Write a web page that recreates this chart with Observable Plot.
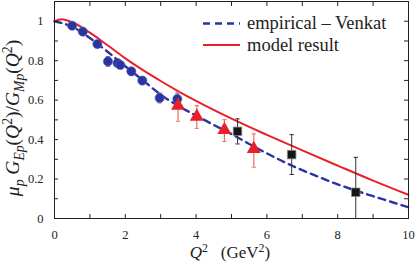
<!DOCTYPE html>
<html><head><meta charset="utf-8">
<script src="https://cdn.jsdelivr.net/npm/d3@7"></script>
<script src="https://cdn.jsdelivr.net/npm/@observablehq/plot@0.6"></script>
<style>
html,body{margin:0;padding:0;background:#fff;}
</style>
</head><body><div id="chart"></div>
<script>
// Model curve (solid red)
const modelQ2 = [0, 0.2, 0.5, 1, 1.5, 2, 2.5, 3, 3.5, 4, 5, 6, 7, 8, 9, 10];
const modelR  = [1.0, 1.01, 0.995, 0.942, 0.878, 0.812, 0.752, 0.697, 0.645, 0.596, 0.506, 0.424, 0.345, 0.268, 0.192, 0.12];
// Empirical fit – Venkat (dashed blue)
const empQ2 = [0, 0.5, 1, 1.5, 2, 2.5, 3, 3.5, 4, 4.5, 5, 5.5, 6, 6.5, 7, 7.5, 8, 8.5, 9, 9.5, 10];
const empR  = [1.0, 0.972, 0.915, 0.845, 0.772, 0.70, 0.628, 0.57, 0.522, 0.474, 0.428, 0.378, 0.33, 0.285, 0.245, 0.208, 0.173, 0.142, 0.113, 0.085, 0.057];
// Data set 1: blue circles
const circQ2 = [0.50, 0.80, 1.21, 1.51, 1.78, 1.86, 2.17, 2.48, 2.97, 3.47];
const circR  = [0.977, 0.947, 0.884, 0.796, 0.788, 0.778, 0.746, 0.699, 0.611, 0.606];
const circE  = [0.012, 0.015, 0.015, 0.025, 0.015, 0.018, 0.02, 0.018, 0.025, 0.03];
// Data set 2: red triangles
const triQ2 = [3.49, 4.02, 4.80, 5.63];
const triR  = [0.572, 0.516, 0.449, 0.353];
const triLo = [0.493, 0.457, 0.390, 0.260];
const triHi = [0.640, 0.572, 0.501, 0.429];
// Data set 3: black squares
const sqQ2 = [5.17, 6.70, 8.51];
const sqR  = [0.442, 0.324, 0.133];
const sqLo = [0.378, 0.223, 0.0];
const sqHi = [0.505, 0.425, 0.310];
// Ticks
const xTicks = [0,1,2,3,4,5,6,7,8,9,10];
const xLabels = [0,2,4,6,8,10];
const yTicks = [0,0.1,0.2,0.3,0.4,0.5,0.6,0.7,0.8,0.9,1.0];
const yLabels = [0,0.2,0.4,0.6,0.8,1.0];

const BLUE = "#2b35a0", RED = "#e8202a";
const model = modelQ2.map((x,i)=>({x, y: modelR[i]}));
const emp = empQ2.map((x,i)=>({x, y: empR[i]}));
const circ = circQ2.map((x,i)=>({x, y: circR[i], lo: circR[i]-circE[i], hi: circR[i]+circE[i]}));
const tri = triQ2.map((x,i)=>({x, y: triR[i], lo: triLo[i], hi: triHi[i]}));
const sq = sqQ2.map((x,i)=>({x, y: sqR[i], lo: sqLo[i], hi: sqHi[i]}));

const capSymbol = {draw(ctx, size){ const r = Math.sqrt(size/Math.PI); ctx.moveTo(-r,0); ctx.lineTo(r,0); }};
const caps = (data, color, key) => Plot.dot(data.filter(d=>d[key]>0), {x:"x", y:key, symbol: capSymbol, r:2.2, stroke: color, strokeWidth:1});
const FONT = "Liberation Serif";

const fmt = d => d === 0 ? "0" : d === 10 ? "10" : (Number.isInteger(d) ? String(d) : d.toFixed(1));

const W = 415, H = 266, ML = 54, MR = 7, MT = 1, MB = 48;
const FW = W - ML - MR, FH = H - MT - MB;

const plot = Plot.plot({
  width: W, height: H,
  marginLeft: ML, marginRight: MR, marginTop: MT, marginBottom: MB,
  style: {fontFamily: FONT, fontSize: "12.5px", color: "#222", background: "#fff"},
  x: {domain: [0, 10]},
  y: {domain: [0, 1.1]},
  marks: [
    Plot.line(emp, {x:"x", y:"y", stroke: BLUE, strokeWidth: 2.4, strokeDasharray: "7,5", curve: "monotone-x"}),
    Plot.line(model, {x:"x", y:"y", stroke: RED, strokeWidth: 2, curve: "monotone-x"}),
    // error bars
    Plot.ruleX(circ, {x:"x", y1:"lo", y2:"hi", stroke: "#6a70b8", strokeWidth: 1}),
    caps(circ, "#6a70b8", "lo"), caps(circ, "#6a70b8", "hi"),
    Plot.ruleX(tri, {x:"x", y1:"lo", y2:"hi", stroke: "#f26a6a", strokeWidth: 1.2}),
    caps(tri, "#f26a6a", "lo"), caps(tri, "#f26a6a", "hi"),
    Plot.ruleX(sq, {x:"x", y1:"lo", y2:"hi", stroke: "#333", strokeWidth: 1}),
    caps(sq, "#333", "lo"), caps(sq, "#333", "hi"),
    // points
    Plot.dot(circ, {x:"x", y:"y", r: 4.6, fill: BLUE, stroke: "#5a62b8", strokeWidth: 0.6}),
    Plot.dot(tri, {x:"x", y:"y", symbol: "triangle", r: 5.2, fill: RED}),
    Plot.dot(sq, {x:"x", y:"y", symbol: "square", r: 4.8, fill: "#151515", stroke: "#888", strokeWidth: 0.8}),
    // inward ticks on all four sides
    Plot.ruleX(xTicks, {x: d => d, insetTop: FH - 4, stroke: "#222"}),
    Plot.ruleX(xTicks, {x: d => d, insetBottom: FH - 5, stroke: "#222"}),
    Plot.ruleY(yTicks, {y: d => d, insetRight: FW - 4, stroke: "#222"}),
    Plot.ruleY(yTicks, {y: d => d, insetLeft: FW - 4, stroke: "#222"}),
    Plot.frame({stroke: "#222", strokeWidth: 1}),
    // labels
    Plot.axisX({anchor: "bottom", ticks: xLabels, tickSize: 0, tickPadding: 12, tickFormat: fmt, label: null}),
    Plot.axisY({anchor: "left", ticks: yLabels, tickSize: 0, tickPadding: 11, tickFormat: fmt, label: null})
  ]
});
document.getElementById("chart").appendChild(plot);

const svg = d3.select(plot);
function rich(g, parts, size){
  const t = g.append("text").attr("font-family", FONT).attr("font-size", size).attr("fill", "#222");
  let cur = 0;
  for (const p of parts){
    const target = p.s === "sub" ? size*0.28 : p.s === "sup" ? -size*0.38 : 0;
    const ts = t.append("tspan").text(p.t).attr("dy", target - cur);
    if (p.i) ts.attr("font-style", "italic");
    if (p.s) ts.attr("font-size", size*0.7);
    cur = target;
  }
  return t;
}
// y label
const gy = svg.append("g").attr("transform", "translate(19,118) rotate(-90)");
rich(gy, [
  {t:"μ", i:1}, {t:"p", i:1, s:"sub"}, {t:" G", i:1}, {t:"Ep", i:1, s:"sub"}, {t:"("}, {t:"Q", i:1}, {t:"2", s:"sup"}, {t:")/"},
  {t:"G", i:1}, {t:"Mp", i:1, s:"sub"}, {t:"("}, {t:"Q", i:1}, {t:"2", s:"sup"}, {t:")"}
], 19.5).attr("text-anchor", "middle");
// x label
const gx = svg.append("g").attr("transform", "translate(230,258)");
rich(gx, [{t:"Q", i:1}, {t:"2", s:"sup"}, {t:"\u2002 (GeV"}, {t:"2", s:"sup"}, {t:")"}], 17).attr("text-anchor", "middle");

// legend
const lg = svg.append("g").attr("text-anchor", "start");
lg.append("line").attr("x1", 203).attr("x2", 240).attr("y1", 23.5).attr("y2", 23.5)
  .attr("stroke", BLUE).attr("stroke-width", 2.4).attr("stroke-dasharray", "7,5");
lg.append("text").attr("x", 247).attr("y", 28.5).attr("text-anchor", "start").attr("font-family", FONT).attr("font-size", 18.5).attr("fill", "#222").text("empirical – Venkat");
lg.append("line").attr("x1", 203).attr("x2", 240).attr("y1", 45).attr("y2", 45)
  .attr("stroke", RED).attr("stroke-width", 2);
lg.append("text").attr("x", 247).attr("y", 50.5).attr("text-anchor", "start").attr("font-family", FONT).attr("font-size", 18.5).attr("fill", "#222").text("model result");
</script>
</body></html>
